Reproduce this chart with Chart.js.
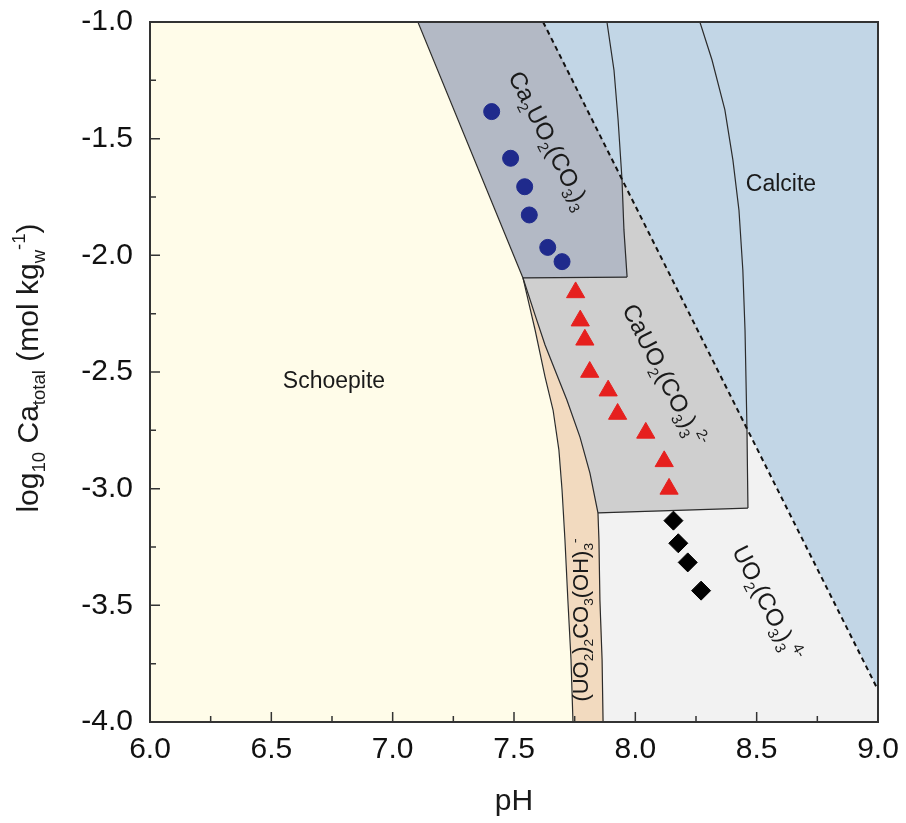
<!DOCTYPE html>
<html lang="en">
<head>
<meta charset="UTF-8">
<title>Ca - U(VI) - CO3 predominance diagram</title>
<style>
  body { margin: 0; background: #fff; }
  #wrap { width: 906px; height: 823px; }
</style>
<script src="https://cdn.jsdelivr.net/npm/chart.js"></script>
</head>
<body>
<div id="wrap"><canvas id="chart" width="906" height="823"></canvas></div>
<script>
// Axis ticks
const xTicks = [6.0, 6.5, 7.0, 7.5, 8.0, 8.5, 9.0];
const xMinor = [6.25, 6.75, 7.25, 7.75, 8.25, 8.75];
const yTicks = [-1.0, -1.5, -2.0, -2.5, -3.0, -3.5, -4.0];
const yMinor = [-1.25, -1.75, -2.25, -2.75, -3.25, -3.75];

// Measured solutions (pH, log10 Ca total)
const circlePH    = [7.408, 7.486, 7.544, 7.563, 7.639, 7.698];
const circleLogCa = [-1.384, -1.584, -1.706, -1.827, -1.966, -2.027];
const trianglePH    = [7.754, 7.773, 7.792, 7.812, 7.888, 7.927, 8.043, 8.119, 8.139];
const triangleLogCa = [-2.159, -2.280, -2.362, -2.500, -2.580, -2.680, -2.761, -2.883, -3.001];
const diamondPH    = [8.157, 8.177, 8.216, 8.271];
const diamondLogCa = [-3.137, -3.234, -3.316, -3.437];

// Field boundaries, [pH, log10 Ca]
const schoepiteEdge = [[7.104, -1.0], [7.537, -2.097], [7.587, -2.320], [7.628, -2.521], [7.661, -2.663],
  [7.685, -2.834], [7.698, -3.006], [7.710, -3.220], [7.722, -3.477], [7.735, -3.734], [7.743, -4.0]];
const beigeEdge = [[7.537, -2.097], [7.587, -2.256], [7.628, -2.384], [7.677, -2.513], [7.718, -2.620],
  [7.772, -2.779], [7.813, -2.933], [7.846, -3.104], [7.850, -3.220], [7.854, -3.477], [7.863, -3.734], [7.867, -4.0]];
const ca2RightEdge = [[7.883, -1.0], [7.912, -1.206], [7.929, -1.420], [7.945, -1.674], [7.953, -1.891], [7.966, -2.093]];
const calciteCurve = [[8.266, -1.0], [8.316, -1.163], [8.369, -1.377], [8.402, -1.591], [8.427, -1.806],
  [8.443, -2.063], [8.452, -2.320], [8.460, -2.743], [8.464, -3.083]];
const ca2BottomEdge = [[7.537, -2.097], [7.966, -2.093]];
const caUO2BottomEdge = [[7.846, -3.104], [8.464, -3.083]];
const calciteSaturation = [[7.620, -1.0], [9.0, -3.863]];

// Filled fields built from the boundaries
const schoepiteField = [[6.0, -1.0]].concat(schoepiteEdge, [[6.0, -4.0], [6.0, -1.0]]);
const ca2Field = [[7.104, -1.0], [7.620, -1.0], [7.945, -1.674], [7.953, -1.891], [7.966, -2.093], [7.537, -2.097], [7.104, -1.0]];
const caUO2Field = [[7.537, -2.097], [7.966, -2.093], [7.953, -1.891], [7.945, -1.674], [8.460, -2.743], [8.464, -3.083]]
  .concat(beigeEdge.slice(0, 8).reverse());
const uo2OHField = schoepiteEdge.slice(1).concat(beigeEdge.slice().reverse());
const uo2CO3Field = [[7.846, -3.104], [8.464, -3.083], [8.460, -2.743], [9.0, -3.863], [9.0, -4.0]]
  .concat(beigeEdge.slice(7).reverse());
const calciteField = [[7.620, -1.0], [9.0, -1.0], [9.0, -3.863], [7.620, -1.0]];

const FONT = '"Liberation Sans", Arial, sans-serif';

const regionLabels = [
  { parts: [['Schoepite', 0]], ph: 6.758, logCa: -2.534, angle: 0, size: 23 },
  { parts: [['Calcite', 0]], ph: 8.600, logCa: -1.690, angle: 0, size: 23 },
  { parts: [['Ca', 0], ['2', 1], ['UO', 0], ['2', 1], ['(CO', 0], ['3', 1], [')', 0], ['3', 1]], ph: 7.648, logCa: -1.506, angle: 63, size: 24 },
  { parts: [['CaUO', 0], ['2', 1], ['(CO', 0], ['3', 1], [')', 0], ['3', 1], ['2-', 2]], ph: 8.122, logCa: -2.513, angle: 63, size: 24 },
  { parts: [['UO', 0], ['2', 1], ['(CO', 0], ['3', 1], [')', 0], ['3', 1], ['4-', 2]], ph: 8.547, logCa: -3.490, angle: 63, size: 24 },
  { parts: [['(UO', 0], ['2', 1], [')', 0], ['2', 1], ['CO', 0], ['3', 1], ['(OH)', 0], ['3', 1], ['-', 2]], ph: 7.772, logCa: -3.563, angle: -90, size: 22 }
];

function pts(arr) { return arr.map(p => ({ x: p[0], y: p[1] })); }
function zip(xs, ys) { return xs.map((x, i) => ({ x: x, y: ys[i] })); }

function field(points, color) {
  return { type: 'line', data: pts(points), fill: 'shape', backgroundColor: color, borderColor: color,
    borderWidth: 1, pointRadius: 0, tension: 0, order: 10 };
}
function edge(points, extra) {
  return Object.assign({ type: 'line', data: pts(points), fill: false, borderColor: '#2b2b2b',
    borderWidth: 1.2, pointRadius: 0, tension: 0, order: 5 }, extra || {});
}

// draws text with sub (1) and superscript (2) parts, centred on x, y
function drawRich(ctx, parts, x, y, angle, size) {
  const small = size * 0.62;
  let w = 0;
  parts.forEach(p => {
    ctx.font = (p[1] ? small : size) + 'px ' + FONT;
    w += ctx.measureText(p[0]).width;
  });
  ctx.save();
  ctx.translate(x, y);
  ctx.rotate(angle * Math.PI / 180);
  ctx.textAlign = 'left';
  ctx.textBaseline = 'alphabetic';
  let cx = -w / 2;
  parts.forEach(p => {
    ctx.font = (p[1] ? small : size) + 'px ' + FONT;
    let dy = size * 0.36;
    if (p[1] === 1) dy += size * 0.24;
    if (p[1] === 2) dy -= size * 0.42;
    ctx.fillText(p[0], cx, dy);
    cx += ctx.measureText(p[0]).width;
  });
  ctx.restore();
}

const decorations = {
  id: 'decorations',
  afterDatasetsDraw(chart) {
    const ctx = chart.ctx;
    const xs = chart.scales.x, ys = chart.scales.y, a = chart.chartArea;
    ctx.save();
    // frame
    ctx.strokeStyle = '#333';
    ctx.lineWidth = 2;
    ctx.strokeRect(a.left, a.top, a.right - a.left, a.bottom - a.top);
    // inward ticks
    ctx.lineWidth = 1.5;
    ctx.beginPath();
    xTicks.forEach(v => { const px = xs.getPixelForValue(v); ctx.moveTo(px, a.bottom); ctx.lineTo(px, a.bottom - 10); });
    xMinor.forEach(v => { const px = xs.getPixelForValue(v); ctx.moveTo(px, a.bottom); ctx.lineTo(px, a.bottom - 6); });
    yTicks.forEach(v => { const py = ys.getPixelForValue(v); ctx.moveTo(a.left, py); ctx.lineTo(a.left + 10, py); });
    yMinor.forEach(v => { const py = ys.getPixelForValue(v); ctx.moveTo(a.left, py); ctx.lineTo(a.left + 6, py); });
    ctx.stroke();
    // field names
    ctx.fillStyle = '#1a1a1a';
    regionLabels.forEach(l => {
      drawRich(ctx, l.parts, xs.getPixelForValue(l.ph), ys.getPixelForValue(l.logCa), l.angle, l.size);
    });
    // axis titles
    drawRich(ctx, [['pH', 0]], (a.left + a.right) / 2, 799, 0, 30);
    drawRich(ctx, [['log', 0], ['10', 1], [' Ca', 0], ['total', 1], [' (mol kg', 0], ['w', 1], ['-1', 2], [')', 0]],
      27, 368, -90, 30);
    ctx.restore();
  }
};

new Chart(document.getElementById('chart'), {
  type: 'scatter',
  data: {
    datasets: [
      { data: zip(circlePH, circleLogCa), pointStyle: 'circle', pointRadius: 8, backgroundColor: '#1F2A8C',
        borderColor: '#1F2A8C', borderWidth: 1, order: 0 },
      { data: zip(trianglePH, triangleLogCa), pointStyle: 'triangle', pointRadius: 10.5, backgroundColor: '#E6201E',
        borderColor: '#E6201E', borderWidth: 1, order: 0 },
      { data: zip(diamondPH, diamondLogCa), pointStyle: 'rectRot', pointRadius: 9.5, backgroundColor: '#000',
        borderColor: '#000', borderWidth: 1, order: 0 },
      edge(calciteSaturation, { borderColor: '#111', borderWidth: 2, borderDash: [5, 4], order: 1 }),
      edge(schoepiteEdge),
      edge(beigeEdge),
      edge(ca2RightEdge),
      edge(calciteCurve),
      edge(ca2BottomEdge),
      edge(caUO2BottomEdge),
      field(schoepiteField, '#FFFCE9'),
      field(ca2Field, '#B3B9C5'),
      field(caUO2Field, '#CFCFCF'),
      field(uo2OHField, '#F2DABF'),
      field(uo2CO3Field, '#F2F2F2'),
      field(calciteField, '#C2D6E6')
    ]
  },
  options: {
    responsive: false,
    animation: false,
    layout: { padding: { top: 22, right: 28, left: 0, bottom: 0 } },
    plugins: { legend: { display: false }, tooltip: { enabled: false } },
    scales: {
      x: {
        type: 'linear', min: 6, max: 9,
        afterBuildTicks: s => { s.ticks = xTicks.map(v => ({ value: v })); },
        afterFit: s => { s.height = 101; s.paddingLeft = 0; s.paddingRight = 0; },
        ticks: { callback: v => v.toFixed(1), font: { family: FONT, size: 30 }, color: '#111', padding: 10,
          maxRotation: 0, autoSkip: false },
        grid: { display: false, drawTicks: false },
        border: { display: false }
      },
      y: {
        type: 'linear', min: -4, max: -1,
        afterBuildTicks: s => { s.ticks = yTicks.map(v => ({ value: v })); },
        afterFit: s => { s.width = 150; s.paddingTop = 0; s.paddingBottom = 0; },
        ticks: { callback: v => v.toFixed(1), font: { family: FONT, size: 30 }, color: '#111', padding: 17,
          autoSkip: false },
        grid: { display: false, drawTicks: false },
        border: { display: false }
      }
    }
  },
  plugins: [decorations]
});
</script>
</body>
</html>
